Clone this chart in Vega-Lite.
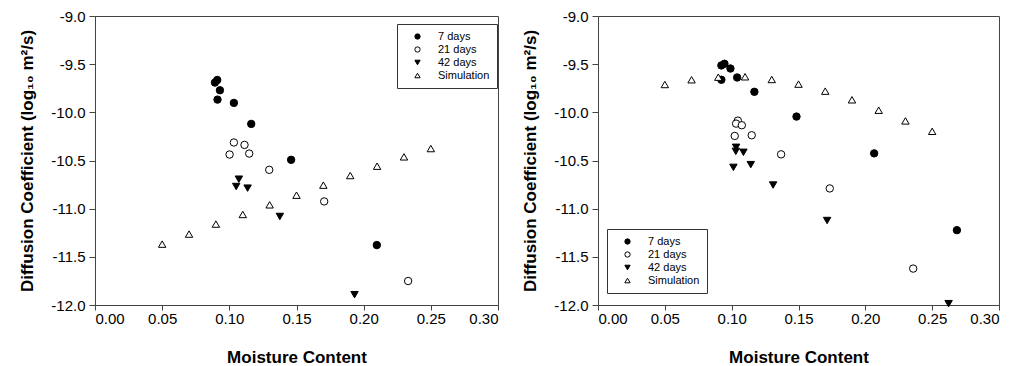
{
  "$schema": "https://vega.github.io/schema/vega-lite/v6.json",
  "padding": {"left": 18, "top": 8, "right": 0, "bottom": 0},
  "background": "white",
  "datasets": {
    "left": [
      {"x": 0.0893, "y": -9.691, "series": "7 days"},
      {"x": 0.0910, "y": -9.664, "series": "7 days"},
      {"x": 0.0930, "y": -9.771, "series": "7 days"},
      {"x": 0.0912, "y": -9.868, "series": "7 days"},
      {"x": 0.1034, "y": -9.902, "series": "7 days"},
      {"x": 0.1163, "y": -10.120, "series": "7 days"},
      {"x": 0.1460, "y": -10.493, "series": "7 days"},
      {"x": 0.2098, "y": -11.378, "series": "7 days"},
      {"x": 0.1034, "y": -10.313, "series": "21 days"},
      {"x": 0.1113, "y": -10.338, "series": "21 days"},
      {"x": 0.1002, "y": -10.438, "series": "21 days"},
      {"x": 0.1148, "y": -10.428, "series": "21 days"},
      {"x": 0.1297, "y": -10.597, "series": "21 days"},
      {"x": 0.1706, "y": -10.925, "series": "21 days"},
      {"x": 0.2331, "y": -11.751, "series": "21 days"},
      {"x": 0.1071, "y": -10.694, "series": "42 days"},
      {"x": 0.1051, "y": -10.770, "series": "42 days"},
      {"x": 0.1136, "y": -10.787, "series": "42 days"},
      {"x": 0.1376, "y": -11.081, "series": "42 days"},
      {"x": 0.1932, "y": -11.893, "series": "42 days"},
      {"x": 0.05, "y": -11.368, "series": "Simulation"},
      {"x": 0.07, "y": -11.264, "series": "Simulation"},
      {"x": 0.09, "y": -11.160, "series": "Simulation"},
      {"x": 0.11, "y": -11.060, "series": "Simulation"},
      {"x": 0.13, "y": -10.960, "series": "Simulation"},
      {"x": 0.15, "y": -10.860, "series": "Simulation"},
      {"x": 0.17, "y": -10.756, "series": "Simulation"},
      {"x": 0.19, "y": -10.656, "series": "Simulation"},
      {"x": 0.21, "y": -10.559, "series": "Simulation"},
      {"x": 0.23, "y": -10.462, "series": "Simulation"},
      {"x": 0.25, "y": -10.376, "series": "Simulation"}
    ],
    "right": [
      {"x": 0.0923, "y": -9.513, "series": "7 days"},
      {"x": 0.0946, "y": -9.496, "series": "7 days"},
      {"x": 0.0991, "y": -9.545, "series": "7 days"},
      {"x": 0.0923, "y": -9.662, "series": "7 days"},
      {"x": 0.1041, "y": -9.638, "series": "7 days"},
      {"x": 0.1170, "y": -9.787, "series": "7 days"},
      {"x": 0.1485, "y": -10.044, "series": "7 days"},
      {"x": 0.2066, "y": -10.426, "series": "7 days"},
      {"x": 0.2685, "y": -11.223, "series": "7 days"},
      {"x": 0.1046, "y": -10.086, "series": "21 days"},
      {"x": 0.1033, "y": -10.117, "series": "21 days"},
      {"x": 0.1076, "y": -10.134, "series": "21 days"},
      {"x": 0.1023, "y": -10.245, "series": "21 days"},
      {"x": 0.1150, "y": -10.238, "series": "21 days"},
      {"x": 0.1370, "y": -10.436, "series": "21 days"},
      {"x": 0.1734, "y": -10.790, "series": "21 days"},
      {"x": 0.2358, "y": -11.622, "series": "21 days"},
      {"x": 0.1033, "y": -10.363, "series": "42 days"},
      {"x": 0.1031, "y": -10.405, "series": "42 days"},
      {"x": 0.1088, "y": -10.415, "series": "42 days"},
      {"x": 0.1013, "y": -10.571, "series": "42 days"},
      {"x": 0.1143, "y": -10.543, "series": "42 days"},
      {"x": 0.1310, "y": -10.755, "series": "42 days"},
      {"x": 0.1714, "y": -11.123, "series": "42 days"},
      {"x": 0.2623, "y": -11.986, "series": "42 days"},
      {"x": 0.05, "y": -9.711, "series": "Simulation"},
      {"x": 0.07, "y": -9.662, "series": "Simulation"},
      {"x": 0.09, "y": -9.635, "series": "Simulation"},
      {"x": 0.11, "y": -9.631, "series": "Simulation"},
      {"x": 0.13, "y": -9.659, "series": "Simulation"},
      {"x": 0.15, "y": -9.707, "series": "Simulation"},
      {"x": 0.17, "y": -9.780, "series": "Simulation"},
      {"x": 0.19, "y": -9.870, "series": "Simulation"},
      {"x": 0.21, "y": -9.978, "series": "Simulation"},
      {"x": 0.23, "y": -10.089, "series": "Simulation"},
      {"x": 0.25, "y": -10.197, "series": "Simulation"}
    ]
  },
  "spacing": 22,
  "hconcat": [
    {
      "width": 403,
      "height": 289,
      "data": {"name": "left"},
      "mark": {"type": "point", "filled": true, "size": 55, "strokeWidth": 1, "opacity": 1},
      "encoding": {
        "x": {"field": "x", "type": "quantitative", "title": "Moisture Content",
              "scale": {"domain": [0, 0.3], "nice": false, "zero": false},
              "axis": {"values": [0, 0.05, 0.1, 0.15, 0.2, 0.25, 0.3], "format": ".2f"}},
        "y": {"field": "y", "type": "quantitative", "title": "Diffusion Coefficient (log₁₀ m²/s)",
              "scale": {"domain": [-12, -9], "nice": false, "zero": false},
              "axis": {"values": [-12, -11.5, -11, -10.5, -10, -9.5, -9], "format": ".1f"}},
        "shape": {"field": "series", "type": "nominal",
                  "scale": {"domain": ["7 days", "21 days", "42 days", "Simulation"], "range": ["circle", "circle", "triangle-down", "triangle-up"]},
                  "legend": {"orient": "none", "legendX": 302, "legendY": 8, "title": null}},
        "fill": {"field": "series", "type": "nominal",
                 "scale": {"domain": ["7 days", "21 days", "42 days", "Simulation"], "range": ["black", "white", "black", "white"]},
                 "legend": {"orient": "none", "legendX": 302, "legendY": 8, "title": null}},
        "stroke": {"field": "series", "type": "nominal",
                   "scale": {"domain": ["7 days", "21 days", "42 days", "Simulation"], "range": ["black", "black", "black", "black"]},
                   "legend": {"orient": "none", "legendX": 302, "legendY": 8, "title": null}}
      }
    },
    {
      "width": 401,
      "height": 289,
      "data": {"name": "right"},
      "mark": {"type": "point", "filled": true, "size": 55, "strokeWidth": 1, "opacity": 1},
      "encoding": {
        "x": {"field": "x", "type": "quantitative", "title": "Moisture Content",
              "scale": {"domain": [0, 0.3], "nice": false, "zero": false},
              "axis": {"values": [0, 0.05, 0.1, 0.15, 0.2, 0.25, 0.3], "format": ".2f"}},
        "y": {"field": "y", "type": "quantitative", "title": "Diffusion Coefficient (log₁₀ m²/s)",
              "scale": {"domain": [-12, -9], "nice": false, "zero": false},
              "axis": {"values": [-12, -11.5, -11, -10.5, -10, -9.5, -9], "format": ".1f"}},
        "shape": {"field": "series", "type": "nominal",
                  "scale": {"domain": ["7 days", "21 days", "42 days", "Simulation"], "range": ["circle", "circle", "triangle-down", "triangle-up"]},
                  "legend": {"orient": "none", "legendX": 9, "legendY": 213, "title": null}},
        "fill": {"field": "series", "type": "nominal",
                 "scale": {"domain": ["7 days", "21 days", "42 days", "Simulation"], "range": ["black", "white", "black", "white"]},
                 "legend": {"orient": "none", "legendX": 9, "legendY": 213, "title": null}},
        "stroke": {"field": "series", "type": "nominal",
                   "scale": {"domain": ["7 days", "21 days", "42 days", "Simulation"], "range": ["black", "black", "black", "black"]},
                   "legend": {"orient": "none", "legendX": 9, "legendY": 213, "title": null}}
      }
    }
  ],
  "resolve": {"legend": {"shape": "independent", "fill": "independent", "stroke": "independent"}},
  "config": {
    "locale": {"number": {"decimal": ".", "thousands": ",", "grouping": [3], "currency": ["$", ""], "minus": "-"}},
    "font": "Liberation Sans",
    "view": {"stroke": "#444", "strokeWidth": 1},
    "axis": {
      "grid": false,
      "domainColor": "#444",
      "tickColor": "#444",
      "labelColor": "black",
      "titleColor": "black",
      "labelFont": "Liberation Sans",
      "titleFont": "Liberation Sans",
      "labelFontSize": 15,
      "titleFontSize": 17,
      "titleFontWeight": "bold"
    },
    "axisX": {"tickSize": 5, "labelPadding": 1, "titlePadding": 23},
    "axisY": {"tickSize": 6, "labelPadding": 4, "titlePadding": 14},
    "legend": {
      "strokeColor": "#333",
      "fillColor": "white",
      "padding": 7,
      "labelFont": "Liberation Sans",
      "labelFontSize": 11,
      "labelColor": "black",
      "symbolSize": 28,
      "symbolStrokeWidth": 1,
      "symbolOffset": 8,
      "labelOffset": 15,
      "rowPadding": 1
    }
  }
}
